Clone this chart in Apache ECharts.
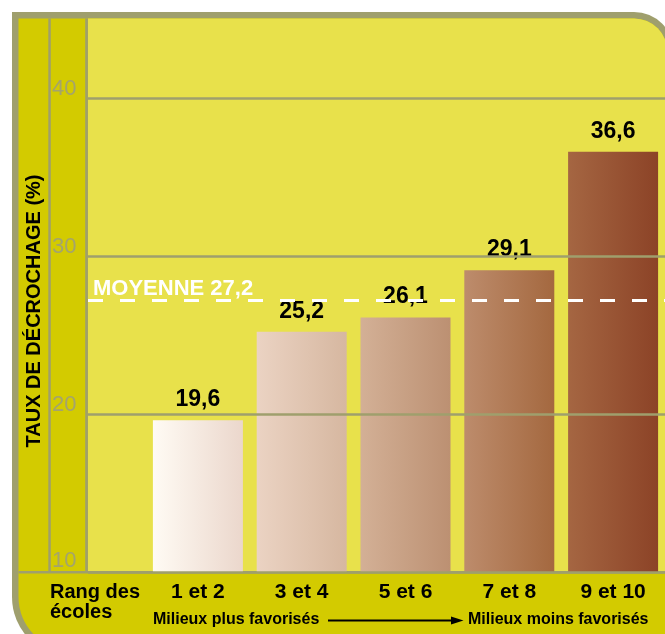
<!DOCTYPE html>
<html>
<head>
<meta charset="utf-8">
<script src="https://cdn.jsdelivr.net/npm/echarts@6/dist/echarts.min.js"></script>
<style>
  html, body { margin: 0; padding: 0; background: #ffffff; }
  #chart { width: 665px; height: 634px; }
</style>
</head>
<body>
<div id="chart"></div>
<script>
// ---- data ----
const categories = ['1 et 2', '3 et 4', '5 et 6', '7 et 8', '9 et 10'];
const values = [19.6, 25.2, 26.1, 29.1, 36.6];
const average = 27.2;
const averageLabel = 'MOYENNE';
const yMin = 10, yMax = 45, yStep = 10;
const yTitle = 'TAUX DE DÉCROCHAGE (%)';
const rankLabel = 'Rang des\nécoles';
const leftNote = 'Milieux plus favorisés';
const rightNote = 'Milieux moins favorisés';

// ---- styles ----
const FONT = '"Liberation Sans", Arial, Helvetica, sans-serif';
const FRAME = '#9f9f6d';
const STRIP = '#d3cb00';
const PLOT = '#e8e14b';
const TICK = '#a4a46c';
const barColors = [
  ['#fffbf4', '#ebd7cc'],
  ['#ebd3c3', '#d6b7a0'],
  ['#d3b096', '#bc9072'],
  ['#bd8c6c', '#a4683f'],
  ['#a56642', '#8c4327']
];
const fmt = v => v.toFixed(1).replace('.', ',');

const chart = echarts.init(document.getElementById('chart'), null, { renderer: 'canvas' });

const option = {
  animation: false,
  backgroundColor: '#ffffff',
  textStyle: { fontFamily: FONT },
  grid: [
    { left: 88, right: 0, top: 19, bottom: 62 },
    { left: 146, right: 0, top: 19, bottom: 62 }
  ],
  xAxis: [
    { type: 'value', gridIndex: 0, min: 0, max: 1, show: false },
    {
      type: 'category', gridIndex: 1, data: categories, z: 3,
      axisLine: { show: false }, axisTick: { show: false },
      axisLabel: { margin: 10, fontSize: 21, fontWeight: 'bold', color: '#000', fontFamily: FONT }
    }
  ],
  yAxis: [
    {
      type: 'value', gridIndex: 0, min: yMin, max: yMax, interval: yStep, z: 3,
      axisLine: { show: false }, axisTick: { show: false },
      splitLine: { show: true, showMaxLine: false, lineStyle: { color: FRAME, width: 2.5 } },
      axisLabel: {
        showMaxLabel: false, align: 'left', verticalAlign: 'bottom', margin: 36,
        fontSize: 22, lineHeight: 18, color: TICK, fontFamily: FONT,
        formatter: v => (v >= yMax ? '' : (v === yMin ? '{lo|' + v + '}' : String(v))),
        rich: { lo: { fontSize: 22, lineHeight: 18, color: TICK, fontFamily: FONT, padding: [0, 0, 5, 0] } }
      }
    },
    { type: 'value', gridIndex: 1, min: yMin, max: yMax, interval: yStep, show: false, splitLine: { show: false } }
  ],
  graphic: [
    { type: 'rect', z: 0, z2: 1, shape: { x: 12, y: 12, width: 662, height: 645, r: [0, 40, 0, 60] }, style: { fill: FRAME } },
    { type: 'rect', z: 0, z2: 2, shape: { x: 18.5, y: 18.5, width: 649, height: 632, r: [0, 33.5, 0, 53.5] }, style: { fill: STRIP } },
    { type: 'rect', z: 0, z2: 3, shape: { x: 88, y: 18.5, width: 579.5, height: 553.5, r: [0, 33.5, 0, 0] }, style: { fill: PLOT } },
    { type: 'rect', z: 0, z2: 4, shape: { x: 48.3, y: 18.5, width: 2.5, height: 554 }, style: { fill: FRAME } },
    { type: 'rect', z: 0, z2: 4, shape: { x: 85.2, y: 18.5, width: 2.7, height: 554 }, style: { fill: FRAME } },
    { type: 'rect', z: 0, z2: 4, shape: { x: 18.5, y: 571, width: 650, height: 2.5 }, style: { fill: FRAME } },
    {
      type: 'text', z: 10, x: 34, y: 311, rotation: Math.PI / 2,
      style: { text: yTitle, font: 'bold 20px ' + FONT, fill: '#000', textAlign: 'center', textVerticalAlign: 'middle' }
    },
    {
      type: 'text', z: 10, x: 50, y: 582,
      style: { text: rankLabel, font: 'bold 20px ' + FONT, fill: '#000', textAlign: 'left', textVerticalAlign: 'top', lineHeight: 20 }
    },
    {
      type: 'text', z: 10, x: 153, y: 620,
      style: { text: leftNote, font: 'bold 16px ' + FONT, fill: '#000', textAlign: 'left', textVerticalAlign: 'middle' }
    },
    {
      type: 'text', z: 10, x: 468, y: 620,
      style: { text: rightNote, font: 'bold 16px ' + FONT, fill: '#000', textAlign: 'left', textVerticalAlign: 'middle' }
    },
    { type: 'line', z: 10, shape: { x1: 328, y1: 620.5, x2: 453, y2: 620.5 }, style: { stroke: '#000', lineWidth: 2 } },
    { type: 'polygon', z: 10, shape: { points: [[451, 616.5], [463.5, 620.5], [451, 624.5]] }, style: { fill: '#000' } }
  ],
  series: [
    {
      type: 'bar', xAxisIndex: 1, yAxisIndex: 1, barWidth: 90, z: 2,
      data: values.map((v, i) => ({
        value: v,
        itemStyle: {
          color: new echarts.graphic.LinearGradient(0, 0, 1, 0, [
            { offset: 0, color: barColors[i][0] },
            { offset: 1, color: barColors[i][1] }
          ])
        }
      })),
      label: {
        show: true, position: 'top', distance: 9,
        formatter: p => fmt(p.value),
        fontSize: 23, fontWeight: 'bold', color: '#000', fontFamily: FONT
      }
    },
    {
      type: 'line', xAxisIndex: 0, yAxisIndex: 0, data: [], z: 6,
      markLine: {
        silent: true, symbol: 'none', z: 6,
        data: [{ yAxis: average }],
        lineStyle: { color: '#ffffff', width: 3, type: [15, 17] },
        label: {
          show: true, position: 'insideStartTop', distance: [5, 0],
          formatter: averageLabel + ' ' + fmt(average),
          fontSize: 22, fontWeight: 'bold', color: '#ffffff', fontFamily: FONT
        }
      }
    }
  ]
};
chart.setOption(option);
</script>
</body>
</html>
